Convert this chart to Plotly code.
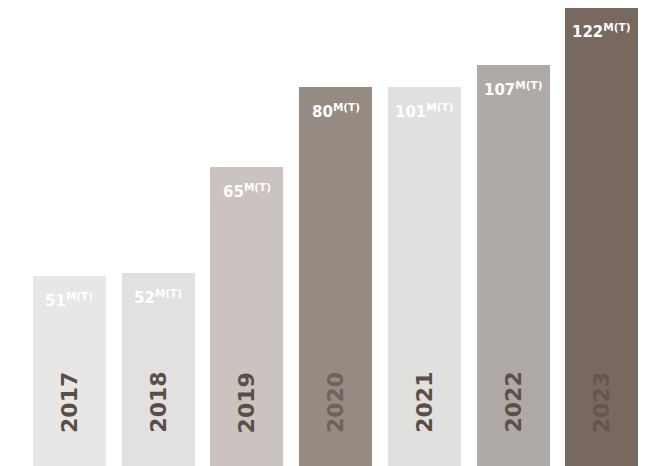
import plotly.graph_objects as go

years = ["2017", "2018", "2019", "2020", "2021", "2022", "2023"]
values = [51, 52, 65, 80, 101, 107, 122]
unit = "M(T)"
# bar heights as drawn in the reference (relative scale)
bar_heights = [190, 193, 299, 379, 379, 401, 459]
bar_colors = ["#e8e7e5", "#e2e1df", "#cac3bf", "#958b83", "#e0e0de", "#afaaa6", "#786960"]
year_colors = ["#5b4e47", "#5b4e47", "#5b4e47", "#6f625a", "#5b4e47", "#5d5049", "#64564e"]

FONT = "DejaVu Sans"
Y_MIN, Y_MAX = -8, 458

fig = go.Figure()
fig.add_trace(go.Bar(
    x=list(range(len(years))),
    y=bar_heights,
    width=0.823,
    marker=dict(color=bar_colors, line=dict(width=0)),
    hoverinfo="skip",
))

annotations = []
for i, (yr, v, h) in enumerate(zip(years, values, bar_heights)):
    annotations.append(dict(
        x=i, y=(h - Y_MIN) / (Y_MAX - Y_MIN), xref="x", yref="paper",
        text=f"<b>{v}<sup>{unit}</sup></b>",
        showarrow=False, yanchor="top", xanchor="center",
        yshift=-12,
        font=dict(family=FONT, size=15, color="#ffffff"),
    ))
    annotations.append(dict(
        x=i, y=0, xref="x", yref="y",
        text=f"<b>{yr}</b>",
        showarrow=False, yanchor="bottom", xanchor="center",
        yshift=31, textangle=-90,
        font=dict(family=FONT, size=22, color=year_colors[i]),
    ))

fig.update_layout(
    width=655, height=466,
    margin=dict(l=0, r=0, t=0, b=0),
    paper_bgcolor="#ffffff", plot_bgcolor="#ffffff",
    showlegend=False,
    bargap=0,
    xaxis=dict(range=[-0.693, 6.691], visible=False, fixedrange=True),
    yaxis=dict(range=[Y_MIN, Y_MAX], visible=False, fixedrange=True),
    annotations=annotations,
)

fig.write_html("out.html")
